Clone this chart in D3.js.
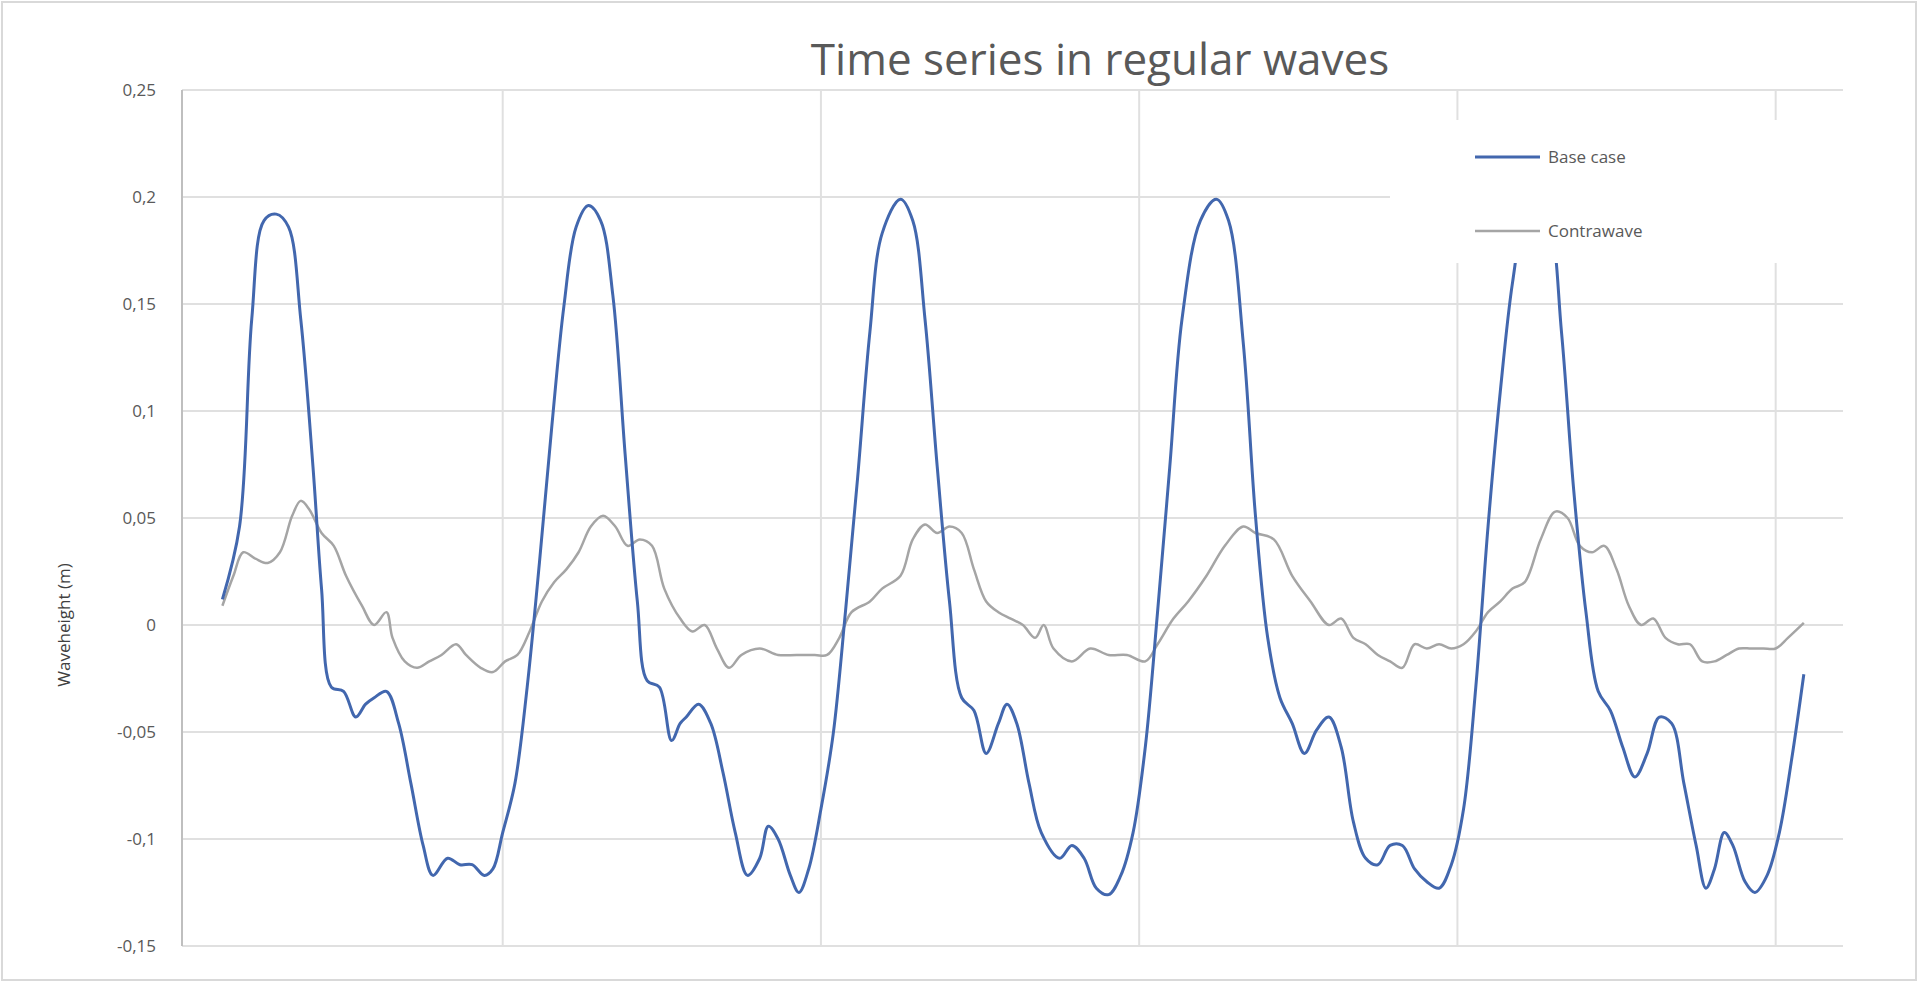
<!DOCTYPE html><html><head><meta charset="utf-8"><script src="https://cdn.jsdelivr.net/npm/d3@7"></script>
<style>body{margin:0;background:#fff}text{font-family:"Open Sans",sans-serif}</style></head><body><svg id="c" width="1920" height="989"></svg>
<script>
const title="Time series in regular waves";
const yLabel="Waveheight (m)";
const yTicks=[0.25,0.2,0.15,0.1,0.05,0,-0.05,-0.1,-0.15];
const gridX=[410,670,930,1190,1450];
const seriesNames=["Base case","Contrawave"];
const baseT=[181,195,205,215,225,235,245,255,262,270,280,290,298,305,315,325,335,345,353,365,375,385,395,402,410,420,430,440,450,460,470,480,490,500,510,520,528,538,548,555,560,570,580,590,600,610,620,627,635,645,652,660,670,680,690,700,710,720,735,745,755,765,775,785,795,805,815,822,830,840,850,865,875,885,895,905,915,925,935,945,955,965,980,993,1003,1015,1025,1035,1045,1055,1065,1075,1085,1095,1105,1115,1125,1135,1145,1155,1165,1175,1185,1195,1205,1215,1225,1235,1245,1255,1265,1275,1285,1295,1305,1315,1325,1335,1345,1355,1365,1375,1385,1393,1400,1408,1415,1425,1433,1443,1453,1463,1473];
const baseV=[0.012,0.046,0.143,0.189,0.192,0.186,0.143,0.074,0.017,-0.029,-0.031,-0.043,-0.037,-0.034,-0.031,-0.046,-0.074,-0.103,-0.117,-0.109,-0.112,-0.112,-0.117,-0.114,-0.097,-0.074,-0.029,0.029,0.092,0.149,0.186,0.196,0.189,0.154,0.08,0.011,-0.026,-0.029,-0.054,-0.046,-0.043,-0.037,-0.046,-0.069,-0.097,-0.117,-0.109,-0.094,-0.1,-0.117,-0.125,-0.114,-0.086,-0.051,0.006,0.069,0.137,0.183,0.199,0.189,0.143,0.074,0.011,-0.034,-0.04,-0.06,-0.046,-0.037,-0.046,-0.074,-0.097,-0.109,-0.103,-0.109,-0.123,-0.126,-0.117,-0.097,-0.057,0.006,0.074,0.143,0.189,0.199,0.189,0.132,0.051,-0.006,-0.034,-0.046,-0.06,-0.049,-0.043,-0.057,-0.092,-0.109,-0.112,-0.103,-0.103,-0.114,-0.12,-0.123,-0.112,-0.086,-0.029,0.046,0.109,0.16,0.19,0.197,0.189,0.137,0.063,0.006,-0.031,-0.04,-0.057,-0.071,-0.06,-0.043,-0.046,-0.074,-0.103,-0.123,-0.114,-0.097,-0.103,-0.12,-0.125,-0.117,-0.097,-0.063,-0.023];
const contraT=[181,190,198,208,218,228,238,245,252,262,272,282,295,305,315,320,330,340,350,360,372,380,392,402,412,422,432,442,452,462,472,482,492,502,512,522,532,542,555,565,575,585,595,605,620,635,650,665,675,685,695,710,720,735,745,755,765,775,785,795,805,815,825,835,845,852,860,875,890,905,920,935,945,958,970,985,1000,1015,1025,1040,1055,1070,1085,1095,1105,1115,1125,1135,1145,1155,1165,1175,1185,1195,1205,1215,1225,1235,1245,1258,1270,1280,1290,1300,1310,1320,1330,1340,1350,1360,1370,1380,1390,1400,1410,1420,1430,1440,1450,1460,1473];
const contraV=[0.009,0.023,0.034,0.031,0.029,0.034,0.051,0.058,0.054,0.043,0.037,0.023,0.009,0,0.006,-0.006,-0.017,-0.02,-0.017,-0.014,-0.009,-0.014,-0.02,-0.022,-0.017,-0.014,-0.003,0.011,0.02,0.026,0.034,0.046,0.051,0.046,0.037,0.04,0.037,0.017,0.003,-0.003,0,-0.011,-0.02,-0.014,-0.011,-0.014,-0.014,-0.014,-0.014,-0.006,0.006,0.011,0.017,0.023,0.04,0.047,0.043,0.046,0.043,0.026,0.011,0.006,0.003,0,-0.006,0,-0.011,-0.017,-0.011,-0.014,-0.014,-0.017,-0.009,0.003,0.011,0.023,0.037,0.046,0.043,0.04,0.023,0.011,0,0.003,-0.006,-0.009,-0.014,-0.017,-0.02,-0.009,-0.011,-0.009,-0.011,-0.009,-0.003,0.006,0.011,0.017,0.02,0.04,0.053,0.05,0.037,0.034,0.037,0.026,0.009,0,0.003,-0.006,-0.009,-0.009,-0.017,-0.017,-0.014,-0.011,-0.011,-0.011,-0.011,-0.006,0.001];

const svg=d3.select("#c");
svg.append("rect").attr("x",2).attr("y",2).attr("width",1914).attr("height",978).attr("fill","#fff").attr("stroke","#d9d9d9").attr("stroke-width",2);
const L=182,R=1843,T=90,B=946;
const x=d3.scaleLinear().domain([148,1505]).range([L,R]);
const y=d3.scaleLinear().domain([-0.15,0.25]).range([B,T]);
const g=svg.append("g");
g.selectAll(".hg").data(yTicks).join("line").attr("x1",L).attr("x2",R).attr("y1",d=>y(d)).attr("y2",d=>y(d)).attr("stroke","#e0e0e0").attr("stroke-width",2);
g.selectAll(".vg").data(gridX).join("line").attr("x1",d=>x(d)).attr("x2",d=>x(d)).attr("y1",T).attr("y2",B).attr("stroke","#e0e0e0").attr("stroke-width",2);
g.append("line").attr("x1",L).attr("x2",L).attr("y1",T).attr("y2",B).attr("stroke","#bfbfbf").attr("stroke-width",2);
const fmt=d=>String(d).replace(".",",");
g.selectAll(".yt").data(yTicks).join("text").attr("x",156).attr("y",d=>y(d)+6).attr("text-anchor","end").attr("font-size",17).attr("fill","#595959").text(fmt);
svg.append("text").attr("transform","translate(70,"+(y(0.05)+(y(-0.05)-y(0.05))/2)+") rotate(-90)").attr("text-anchor","middle").attr("font-size",17).attr("fill","#404040").text(yLabel);
svg.append("text").attr("x",1100).attr("y",75).attr("text-anchor","middle").attr("font-size",44).attr("fill","#595959").text(title);
const line=d3.line().x(d=>x(d[0])).y(d=>y(d[1])).curve(d3.curveCatmullRom);
svg.append("path").attr("d",line(contraT.map((t,i)=>[t,contraV[i]]))).attr("fill","none").attr("stroke","#a5a5a5").attr("stroke-width",2.5);
svg.append("path").attr("d",line(baseT.map((t,i)=>[t,baseV[i]]))).attr("fill","none").attr("stroke","#4267ae").attr("stroke-width",3);
svg.append("rect").attr("x",1390).attr("y",120).attr("width",453).attr("height",143).attr("fill","#fff");
const cols=["#4267ae","#a5a5a5"];
seriesNames.forEach((n,i)=>{const yy=157+i*74;
svg.append("line").attr("x1",1475).attr("x2",1540).attr("y1",yy).attr("y2",yy).attr("stroke",cols[i]).attr("stroke-width",i?2.5:3);
svg.append("text").attr("x",1548).attr("y",yy+6).attr("font-size",17).attr("fill","#595959").text(n);});
</script></body></html>
